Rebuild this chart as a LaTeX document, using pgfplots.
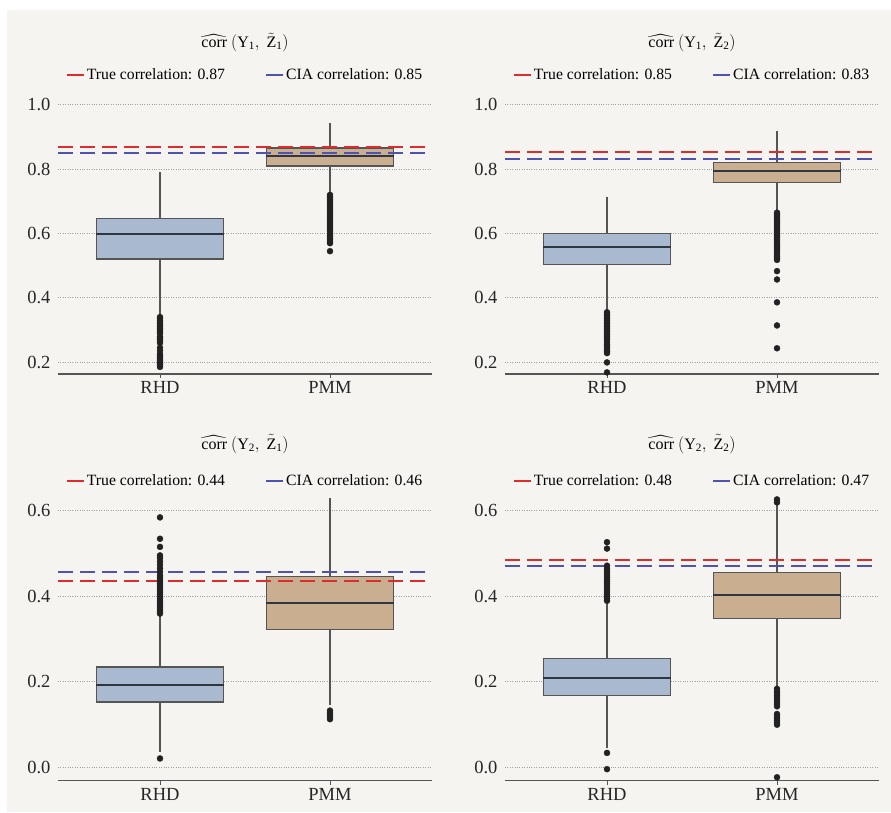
\documentclass[border=0pt]{standalone}
\usepackage{fontspec}
\setmainfont{Liberation Serif}
\usepackage{amsmath}
\usepackage{pgfplots}
\pgfplotsset{compat=1.18}
\usepgfplotslibrary{statistics}
\definecolor{bg}{HTML}{F6F4F1}
\definecolor{boxblue}{HTML}{A8B9D0}
\definecolor{boxtan}{HTML}{C9AE8F}
\definecolor{edge}{HTML}{555555}
\definecolor{medc}{HTML}{2E3640}
\definecolor{truered}{HTML}{DD2C2C}
\definecolor{ciablue}{HTML}{4F52AE}
\definecolor{outc}{HTML}{222222}
\definecolor{gridc}{HTML}{A0A0A0}
\pgfplotsset{
 panel/.style={
  scale only axis, width=374pt,
  xmin=-0.6, xmax=1.6,
  xtick={0,1}, xticklabels={RHD,PMM},
  axis x line*=bottom, axis y line*=left,
  y axis line style={draw=none},
  x axis line style={draw=edge, line width=1.2pt},
  ytick style={draw=none},
  xtick style={draw=edge, line width=1pt},
  tick align=outside, major tick length=4pt,
  ymajorgrids, grid style={dotted, gridc, line width=1pt},
  tick label style={font=\fontsize{18.5}{20}\selectfont, text=black!85},
  /pgf/number format/assume math mode=true,
  yticklabel style={/pgf/number format/fixed, /pgf/number format/fixed zerofill, /pgf/number format/precision=1},
  legend columns=2,
  legend style={draw=none, fill=none, font=\fontsize{15.7}{18}\selectfont, at={(0.5,1)}, anchor=center, /tikz/every even column/.append style={column sep=38pt}},
  title style={font=\fontsize{16}{18}\selectfont, at={(0.5,1)}, anchor=center},
  boxplot/draw direction=y,
  boxplot/whisker extend=0,
  boxplot/every median/.style={draw=medc, line width=2pt},
 },
 bx/.style={draw=edge, line width=1.2pt},
 outl/.style={only marks, mark=*, mark size=3pt, mark options={fill=outc, draw=outc, solid}, forget plot},
 trueline/.style={truered, line width=2pt, dash pattern=on 15pt off 7pt, forget plot},
 cialine/.style={ciablue, line width=2pt, dash pattern=on 15pt off 7pt, forget plot},
 legt/.style={truered, line width=2pt},
 legc/.style={ciablue, line width=2pt},
}
\begin{document}
\begin{tikzpicture}
\useasboundingbox (0,0) rectangle (891pt,812pt);
\fill[white] (0,0) rectangle (891pt,812pt);
\fill[bg] (7pt,0) rectangle (891pt,802pt);

% ---------- top left
\begin{axis}[panel, at={(58pt,438pt)}, anchor=south west, height=278.7pt,
  ymin=0.163, ymax=1.03, ytick={0.2,0.4,0.6,0.8,1.0},
  title={$\widehat{\text{corr}}\ (\text{Y}_{\text{1}},\ \tilde{\text{Z}}_{\text{1}})$},
  title style={yshift=47pt}, legend style={yshift=20pt}]
\addlegendimage{legt}\addlegendentry{True correlation: 0.87}
\addlegendimage{legc}\addlegendentry{CIA correlation: 0.85}
\addplot[bx, fill=boxblue, forget plot, boxplot prepared={draw position=0, lower whisker=0.348, lower quartile=0.521, median=0.599, upper quartile=0.646, upper whisker=0.792, box extend=0.75}] coordinates {};
\addplot[bx, fill=boxtan, forget plot, boxplot prepared={draw position=1, lower whisker=0.727, lower quartile=0.810, median=0.841, upper quartile=0.866, upper whisker=0.944, box extend=0.75}] coordinates {};
\addplot[outl] coordinates {(0,0.185)(0,0.19)(0,0.195)(0,0.20)(0,0.205)(0,0.21)(0,0.215)(0,0.22)(0,0.225)(0,0.235)(0,0.245)(0,0.26)(0,0.265)(0,0.27)(0,0.275)(0,0.28)(0,0.29)(0,0.295)(0,0.30)(0,0.305)(0,0.31)(0,0.315)(0,0.32)(0,0.325)(0,0.33)(0,0.335)(0,0.34)};
\addplot[outl] coordinates {(1,0.545)(1,0.57)(1,0.575)(1,0.58)(1,0.585)(1,0.59)(1,0.595)(1,0.60)(1,0.605)(1,0.61)(1,0.615)(1,0.62)(1,0.625)(1,0.63)(1,0.635)(1,0.64)(1,0.645)(1,0.65)(1,0.655)(1,0.66)(1,0.665)(1,0.67)(1,0.675)(1,0.68)(1,0.685)(1,0.69)(1,0.695)(1,0.70)(1,0.705)(1,0.71)(1,0.715)(1,0.72)};
\addplot[trueline] coordinates {(-0.6,0.87)(1.6,0.87)};
\addplot[cialine] coordinates {(-0.6,0.85)(1.6,0.85)};
\end{axis}

% ---------- top right
\begin{axis}[panel, at={(505pt,438pt)}, anchor=south west, height=278.7pt,
  ymin=0.163, ymax=1.03, ytick={0.2,0.4,0.6,0.8,1.0},
  title={$\widehat{\text{corr}}\ (\text{Y}_{\text{1}},\ \tilde{\text{Z}}_{\text{2}})$},
  title style={yshift=47pt}, legend style={yshift=20pt}]
\addlegendimage{legt}\addlegendentry{True correlation: 0.85}
\addlegendimage{legc}\addlegendentry{CIA correlation: 0.83}
\addplot[bx, fill=boxblue, forget plot, boxplot prepared={draw position=0, lower whisker=0.36, lower quartile=0.503, median=0.557, upper quartile=0.599, upper whisker=0.713, box extend=0.75}] coordinates {};
\addplot[bx, fill=boxtan, forget plot, boxplot prepared={draw position=1, lower whisker=0.668, lower quartile=0.759, median=0.794, upper quartile=0.820, upper whisker=0.919, box extend=0.75}] coordinates {};
\addplot[outl] coordinates {(0,0.168)(0,0.199)(0,0.228)(0,0.233)(0,0.238)(0,0.245)(0,0.25)(0,0.255)(0,0.262)(0,0.27)(0,0.275)(0,0.28)(0,0.285)(0,0.29)(0,0.295)(0,0.30)(0,0.305)(0,0.31)(0,0.315)(0,0.32)(0,0.325)(0,0.33)(0,0.335)(0,0.34)(0,0.345)(0,0.35)(0,0.355)};
\addplot[outl] coordinates {(1,0.243)(1,0.314)(1,0.386)(1,0.457)(1,0.483)(1,0.518)(1,0.523)(1,0.528)(1,0.535)(1,0.54)(1,0.545)(1,0.55)(1,0.555)(1,0.56)(1,0.565)(1,0.57)(1,0.575)(1,0.58)(1,0.585)(1,0.59)(1,0.595)(1,0.60)(1,0.605)(1,0.61)(1,0.615)(1,0.62)(1,0.625)(1,0.63)(1,0.635)(1,0.64)(1,0.645)(1,0.65)(1,0.655)(1,0.66)(1,0.665)};
\addplot[trueline] coordinates {(-0.6,0.854)(1.6,0.854)};
\addplot[cialine] coordinates {(-0.6,0.831)(1.6,0.831)};
\end{axis}

% ---------- bottom left
\begin{axis}[panel, at={(58pt,31.3pt)}, anchor=south west, height=291.1pt,
  ymin=-0.031, ymax=0.65, ytick={0,0.2,0.4,0.6},
  title={$\widehat{\text{corr}}\ (\text{Y}_{\text{2}},\ \tilde{\text{Z}}_{\text{1}})$},
  title style={yshift=39.6pt}, legend style={yshift=9pt}]
\addlegendimage{legt}\addlegendentry{True correlation: 0.44}
\addlegendimage{legc}\addlegendentry{CIA correlation: 0.46}
\addplot[bx, fill=boxblue, forget plot, boxplot prepared={draw position=0, lower whisker=0.035, lower quartile=0.153, median=0.194, upper quartile=0.235, upper whisker=0.357, box extend=0.75}] coordinates {};
\addplot[bx, fill=boxtan, forget plot, boxplot prepared={draw position=1, lower whisker=0.145, lower quartile=0.322, median=0.385, upper quartile=0.447, upper whisker=0.631, box extend=0.75}] coordinates {};
\addplot[outl] coordinates {(0,0.021)(0,0.36)(0,0.365)(0,0.37)(0,0.375)(0,0.38)(0,0.385)(0,0.39)(0,0.395)(0,0.40)(0,0.405)(0,0.41)(0,0.415)(0,0.42)(0,0.425)(0,0.43)(0,0.435)(0,0.44)(0,0.445)(0,0.45)(0,0.458)(0,0.466)(0,0.474)(0,0.482)(0,0.49)(0,0.496)(0,0.516)(0,0.535)(0,0.585)};
\addplot[outl] coordinates {(1,0.113)(1,0.118)(1,0.123)(1,0.128)(1,0.133)};
\addplot[trueline] coordinates {(-0.6,0.437)(1.6,0.437)};
\addplot[cialine] coordinates {(-0.6,0.457)(1.6,0.457)};
\end{axis}

% ---------- bottom right
\begin{axis}[panel, at={(505pt,31.3pt)}, anchor=south west, height=291.1pt,
  ymin=-0.031, ymax=0.65, ytick={0,0.2,0.4,0.6},
  title={$\widehat{\text{corr}}\ (\text{Y}_{\text{2}},\ \tilde{\text{Z}}_{\text{2}})$},
  title style={yshift=39.6pt}, legend style={yshift=9pt}]
\addlegendimage{legt}\addlegendentry{True correlation: 0.48}
\addlegendimage{legc}\addlegendentry{CIA correlation: 0.47}
\addplot[bx, fill=boxblue, forget plot, boxplot prepared={draw position=0, lower whisker=0.045, lower quartile=0.168, median=0.209, upper quartile=0.254, upper whisker=0.385, box extend=0.75}] coordinates {};
\addplot[bx, fill=boxtan, forget plot, boxplot prepared={draw position=1, lower whisker=0.19, lower quartile=0.348, median=0.403, upper quartile=0.457, upper whisker=0.615, box extend=0.75}] coordinates {};
\addplot[outl] coordinates {(0,-0.004)(0,0.034)(0,0.39)(0,0.395)(0,0.40)(0,0.405)(0,0.41)(0,0.415)(0,0.42)(0,0.425)(0,0.43)(0,0.435)(0,0.44)(0,0.445)(0,0.45)(0,0.455)(0,0.46)(0,0.465)(0,0.472)(0,0.512)(0,0.527)};
\addplot[outl] coordinates {(1,-0.023)(1,0.10)(1,0.105)(1,0.11)(1,0.115)(1,0.12)(1,0.125)(1,0.143)(1,0.148)(1,0.153)(1,0.158)(1,0.163)(1,0.168)(1,0.173)(1,0.178)(1,0.184)(1,0.62)(1,0.627)};
\addplot[trueline] coordinates {(-0.6,0.485)(1.6,0.485)};
\addplot[cialine] coordinates {(-0.6,0.472)(1.6,0.472)};
\end{axis}
\end{tikzpicture}
\end{document}
